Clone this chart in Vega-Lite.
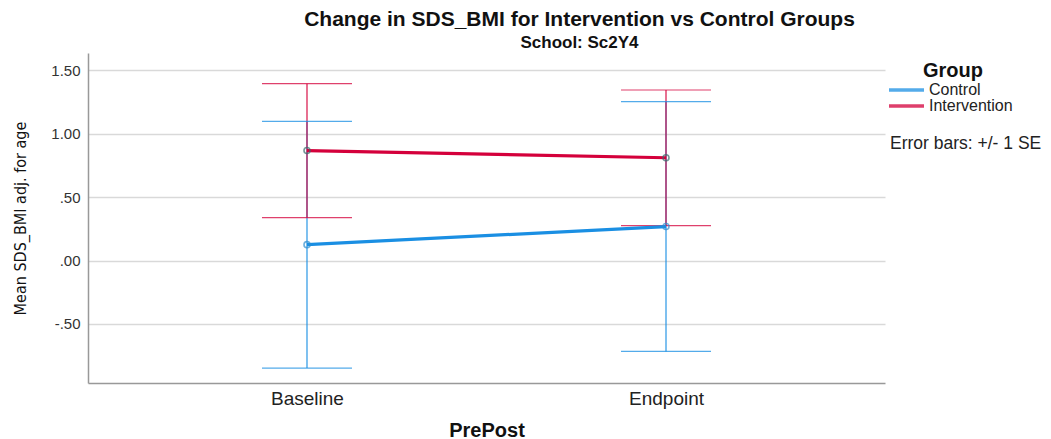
{
  "$schema": "https://vega.github.io/schema/vega-lite/v6.json",
  "width": 797,
  "height": 330,
  "autosize": {"type": "none"},
  "padding": {"left": 88, "top": 53, "right": 166, "bottom": 56},
  "background": "white",
  "config": {
    "view": {"stroke": null},
    "font": "Liberation Sans"
  },
  "title": {
    "text": "Change in SDS_BMI for Intervention vs Control Groups",
    "subtitle": "School: Sc2Y4",
    "anchor": "middle",
    "dx": 93,
    "offset": 2,
    "fontSize": 21,
    "fontWeight": "bold",
    "color": "#111111",
    "subtitleFontSize": 17,
    "subtitleFontWeight": "bold",
    "subtitleColor": "#111111",
    "subtitlePadding": 5
  },
  "data": {
    "values": [
      {"PrePost": "Baseline", "Group": "Control", "mean": 0.125, "lower": -0.849, "upper": 1.099},
      {"PrePost": "Baseline", "Group": "Intervention", "mean": 0.868, "lower": 0.339, "upper": 1.396},
      {"PrePost": "Endpoint", "Group": "Control", "mean": 0.268, "lower": -0.718, "upper": 1.254},
      {"PrePost": "Endpoint", "Group": "Intervention", "mean": 0.811, "lower": 0.276, "upper": 1.346}
    ]
  },
  "encoding": {
    "x": {
      "field": "PrePost",
      "type": "ordinal",
      "scale": {"type": "point", "padding": 0.61},
      "axis": {
        "title": "PrePost",
        "labelAngle": 0,
        "labelFontSize": 19,
        "labelColor": "#222222",
        "labelPadding": 6,
        "ticks": false,
        "domainColor": "#999999",
        "domainWidth": 1.5,
        "titleFontSize": 20,
        "titleFontWeight": "bold",
        "titleColor": "#111111",
        "titlePadding": 12
      }
    },
    "color": {
      "field": "Group",
      "type": "nominal",
      "scale": {"domain": ["Control", "Intervention"], "range": ["#1a8fe3", "#d4003b"]}
    }
  },
  "layer": [
    {
      "mark": {"type": "rule", "strokeWidth": 1.5, "opacity": 0.75},
      "encoding": {
        "y": {
          "field": "lower",
          "type": "quantitative",
          "scale": {"domain": [-0.967, 1.638], "nice": false, "zero": false},
          "axis": {
            "title": "Mean SDS_BMI adj. for age",
            "titleFont": "DejaVu Sans Condensed, Liberation Sans",
            "titleFontSize": 16,
            "titleFontWeight": "normal",
            "titleColor": "#111111",
            "titlePadding": 22,
            "values": [-0.5, 0, 0.5, 1, 1.5],
            "labelExpr": "datum.value == 0 ? '.00' : datum.value == 0.5 ? '.50' : datum.value == -0.5 ? '-.50' : format(datum.value, '.2f')",
            "labelFontSize": 15,
            "labelColor": "#333333",
            "labelPadding": 8,
            "ticks": false,
            "domainColor": "#999999",
            "domainWidth": 1.5,
            "grid": true,
            "gridColor": "#d9d9d9",
            "gridWidth": 1.5
          }
        },
        "y2": {"field": "upper"}
      }
    },
    {
      "mark": {"type": "tick", "size": 90, "thickness": 1.2, "opacity": 0.75},
      "encoding": {"y": {"field": "upper", "type": "quantitative"}}
    },
    {
      "mark": {"type": "tick", "size": 90, "thickness": 1.2, "opacity": 0.75},
      "encoding": {"y": {"field": "lower", "type": "quantitative"}}
    },
    {
      "mark": {"type": "line", "strokeWidth": 3.2},
      "encoding": {
        "y": {"field": "mean", "type": "quantitative"},
        "color": {
          "field": "Group",
          "type": "nominal",
          "legend": {
            "title": "Group",
            "orient": "right",
            "offset": -10,
            "padding": 8,
            "titleFontSize": 20,
            "titleFontWeight": "bold",
            "titleColor": "#111111",
            "titleAnchor": "middle",
            "titleAlign": "center",
            "titlePadding": 1,
            "labelFontSize": 16,
            "labelColor": "#222222",
            "labelOffset": 25,
            "symbolOffset": -5,
            "symbolType": "M-3.5,0H14",
            "symbolSize": 16,
            "symbolStrokeWidth": 3.5,
            "rowPadding": 0
          }
        }
      }
    },
    {
      "mark": {"type": "point", "filled": false, "size": 36, "strokeWidth": 1.6},
      "encoding": {
        "y": {"field": "mean", "type": "quantitative"},
        "stroke": {
          "field": "Group",
          "type": "nominal",
          "scale": {"domain": ["Control", "Intervention"], "range": ["#2f8fd0", "#3a6a6e"]},
          "legend": null
        },
        "shape": {
          "datum": "SE",
          "scale": {"domain": ["SE"], "range": ["circle"]},
          "legend": {
            "title": "Error bars: +/- 1 SE",
            "titleFontSize": 17.5,
            "titleFontWeight": "normal",
            "titleColor": "#222222",
            "labelExpr": "''",
            "symbolOpacity": 0,
            "symbolSize": 0,
            "labelFontSize": 1,
            "padding": 5,
            "offset": 0
          }
        }
      }
    }
  ]
}
